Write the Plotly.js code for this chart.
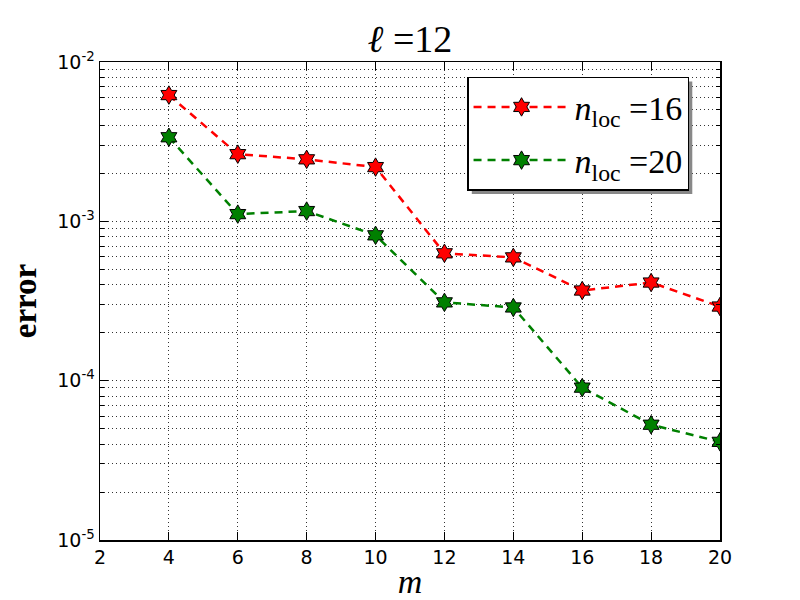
<!DOCTYPE html>
<html>
<head>
<meta charset="utf-8">
<script src="https://cdn.plot.ly/plotly-3.0.1.min.js"></script>
<style>html,body{margin:0;padding:0;background:#fff;}#chart{width:800px;height:600px;}</style>
</head>
<body>
<div id="chart"></div>
<script>
const m = [4, 6, 8, 10, 12, 14, 16, 18, 20];
const errNloc16 = [6.2e-3, 2.64e-3, 2.45e-3, 2.19e-3, 6.3e-4, 5.94e-4, 3.68e-4, 4.13e-4, 2.92e-4];
const errNloc20 = [3.37e-3, 1.11e-3, 1.16e-3, 8.17e-4, 3.10e-4, 2.88e-4, 9.04e-5, 5.29e-5, 4.13e-5];
const xTicks = [2, 4, 6, 8, 10, 12, 14, 16, 18, 20];
const yMajor = [1e-5, 1e-4, 1e-3, 1e-2];
const yMajorText = ['10<sup>-5</sup>', '10<sup>-4</sup>', '10<sup>-3</sup>', '10<sup>-2</sup>'];
const yMinor = [];
[1e-5, 1e-4, 1e-3].forEach(d => { for (let k = 2; k <= 9; k++) yMinor.push(k * d); });

const serif = 'Liberation Serif, DejaVu Serif, serif';
const sans = 'DejaVu Sans, sans-serif';
const gridDash = '1px,3px';

const traces = [
  {x: m, y: errNloc16, name: '<i>n</i><sub>loc</sub> =16', mode: 'lines+markers', legendgroup: 'a',
   line: {color: '#ff0000', width: 2.5, dash: '8px,6px'},
   marker: {symbol: 'hexagram', size: 14, color: '#ff0000', line: {color: '#000', width: 1}}},
  {x: m, y: errNloc20, name: '<i>n</i><sub>loc</sub> =20', mode: 'lines+markers', legendgroup: 'b',
   line: {color: '#008000', width: 2.5, dash: '8px,6px'},
   marker: {symbol: 'hexagram', size: 14, color: '#008000', line: {color: '#000', width: 1}}}
];

const layout = {
  width: 800, height: 600,
  margin: {l: 100, r: 80, t: 62, b: 60},
  paper_bgcolor: '#fff', plot_bgcolor: '#fff',
  title: {text: '<i>ℓ</i> =12', x: 0.5125, xanchor: 'center', y: 0.935, yanchor: 'middle',
          font: {family: serif, size: 38, color: '#000'}},
  xaxis: {range: [2, 20], tickvals: xTicks, ticktext: xTicks.map(String),
          showline: true, linecolor: '#000', linewidth: 1.5, mirror: 'ticks',
          ticks: 'inside', ticklen: 8, tickcolor: '#000',
          showgrid: true, gridcolor: '#333', griddash: gridDash, gridwidth: 1, zeroline: false,
          tickfont: {family: sans, size: 19, color: '#000'},
          title: {text: '<i>m</i>', font: {family: serif, size: 34, color: '#000'}, standoff: 6}},
  yaxis: {type: 'log', range: [-5, -2], tickmode: 'array', tickvals: yMajor, ticktext: yMajorText,
          showline: true, linecolor: '#000', linewidth: 1.5, mirror: 'ticks',
          ticks: 'inside', ticklen: 8, tickcolor: '#000',
          showgrid: true, gridcolor: '#333', griddash: gridDash, gridwidth: 1, zeroline: false,
          tickfont: {family: sans, size: 19, color: '#000'},
          minor: {tickmode: 'array', tickvals: yMinor, ticks: 'inside', ticklen: 4, tickcolor: '#000',
                  showgrid: true, gridcolor: '#333', griddash: gridDash, gridwidth: 1},
          title: {text: '<b>error</b>', font: {family: serif, size: 33, color: '#000'}, standoff: 10}},
  legend: {x: 0.592, y: 0.969, xanchor: 'left', yanchor: 'top',
           bgcolor: '#fff', bordercolor: '#000', borderwidth: 1.5,
           font: {family: serif, size: 34, color: '#000'}, itemwidth: 96, tracegroupgap: 6},
  showlegend: true
};

Plotly.newPlot('chart', traces, layout, {displayModeBar: false, staticPlot: true}).then(gd => {
  const bg = gd.querySelector('.legend .bg');
  if (!bg) return;
  const r = bg.getBoundingClientRect();
  const c = gd.getBoundingClientRect();
  const fs = gd._fullLayout._size;
  const off = 4;
  const toPx = px => (px - c.left - fs.l) / fs.w;
  const toPy = py => 1 - (py - c.top - fs.t) / fs.h;
  Plotly.relayout(gd, {shapes: [{type: 'rect', xref: 'paper', yref: 'paper',
    x0: toPx(r.left + off), x1: toPx(r.right + off), y0: toPy(r.bottom + off), y1: toPy(r.top + off),
    fillcolor: '#888', line: {width: 0}, layer: 'above'}]});
});
</script>
</body>
</html>
